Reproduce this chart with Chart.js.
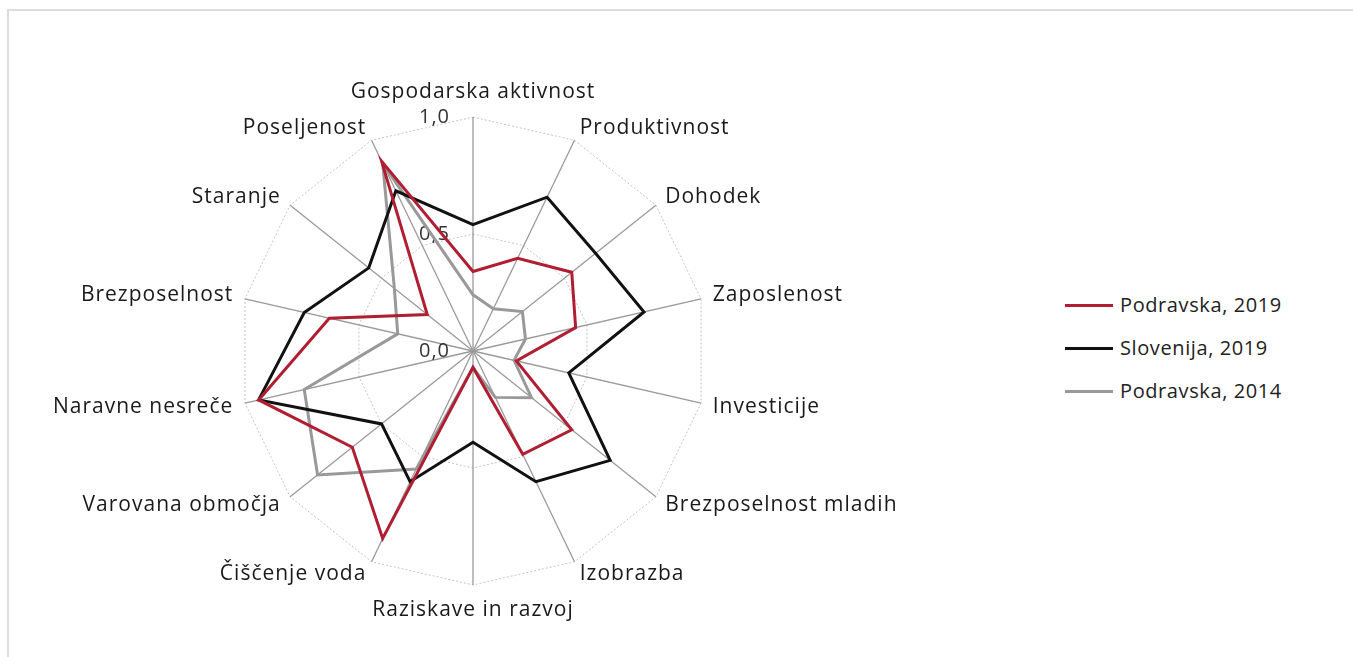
<!DOCTYPE html>
<html>
<head>
<meta charset="utf-8">
<script src="https://cdn.jsdelivr.net/npm/chart.js@4.4.1/dist/chart.umd.min.js"></script>
<style>
  body { margin: 0; background: #fff; font-family: 'Open Sans', sans-serif; }
  #okvir { position: absolute; left: 7px; top: 9px; width: 1400px; height: 700px; border: 2px solid #dcdcdc; }
  #grafico { position: absolute; left: 8px; top: 60px; }
  #legenda { position: absolute; left: 1065px; top: 290px; width: 280px; }
  .item { position: relative; height: 43px; font-size: 20px; color: #222; letter-spacing: 0.6px; white-space: nowrap; }
  .item span.crta { position: absolute; left: 0; top: 14px; width: 48px; height: 3px; }
  .item span.tekst { position: absolute; left: 55px; top: 0; line-height: 30px; }
</style>
</head>
<body>
<div id="okvir"></div>
<canvas id="grafico" width="930" height="600"></canvas>
<div id="legenda"></div>
<script>
// Kategorije (v smeri urinega kazalca od vrha)
const kategorije = [
    'Gospodarska aktivnost', 'Produktivnost', 'Dohodek', 'Zaposlenost', 'Investicije',
    'Brezposelnost mladih', 'Izobrazba', 'Raziskave in razvoj', 'Čiščenje voda',
    'Varovana območja', 'Naravne nesreče', 'Brezposelnost', 'Staranje', 'Poseljenost'
];

// Vrednosti serij
const podravska2019 = [0.34, 0.44, 0.54, 0.45, 0.19, 0.54, 0.49, 0.07, 0.89, 0.66, 0.94, 0.63, 0.25, 0.90];
const slovenija2019 = [0.54, 0.73, 0.67, 0.75, 0.42, 0.75, 0.62, 0.39, 0.62, 0.50, 0.94, 0.74, 0.57, 0.76];
const podravska2014 = [0.24, 0.20, 0.27, 0.23, 0.18, 0.32, 0.22, 0.07, 0.56, 0.85, 0.74, 0.33, 0.43, 0.89];

const imenaSerij = ['Podravska, 2019', 'Slovenija, 2019', 'Podravska, 2014'];
const barveSerij = ['#b01e32', '#111111', '#999999'];

// Oznake osi
const oznakeOsi = [0, 0.5, 1];

const razmik = {
    id: 'razmik',
    beforeUpdate(chart) { chart.ctx.letterSpacing = '1px'; },
    beforeDraw(chart) { chart.ctx.letterSpacing = '1px'; }
};

const ctx = document.getElementById('grafico').getContext('2d');

const dados = {
    labels: kategorije,
    datasets: [podravska2019, slovenija2019, podravska2014].map((serija, i) => ({
        label: imenaSerij[i],
        data: serija,
        borderColor: barveSerij[i],
        backgroundColor: barveSerij[i],
        borderWidth: 3,
        pointRadius: 0,
        fill: false,
        tension: 0
    }))
};

const config = {
    type: 'radar',
    data: dados,
    plugins: [razmik],
    options: {
        responsive: false,
        animation: false,
        layout: { padding: { top: 32, bottom: 48, left: 0, right: 0 } },
        scales: {
            r: {
                min: -0.0001,
                max: 1,
                afterBuildTicks: (scale) => {
                    scale.ticks = oznakeOsi.map(v => ({ value: v }));
                },
                ticks: {
                    color: '#333',
                    font: { family: 'Open Sans', size: 20 },
                    backdropPadding: -10, // brez dodatnega odmika oznak
                    showLabelBackdrop: false,
                    callback: (v) => v.toFixed(1).replace('.', ',') + '\u2002'.repeat(7)
                },
                grid: { color: '#c4c4c4', lineWidth: 1 },
                border: { dash: [2, 2] },
                angleLines: { color: '#9a9a9a', lineWidth: 1.3 },
                pointLabels: {
                    color: '#1a1a1a',
                    padding: (c) => (c.index % 7 === 0 ? 24 : 12),
                    font: { family: 'Open Sans', size: 21, lineHeight: 0.1 }
                }
            }
        },
        plugins: {
            legend: { display: false },
            tooltip: { enabled: false }
        }
    }
};

const chart = new Chart(ctx, config);

// Legenda
const legenda = document.getElementById('legenda');
imenaSerij.forEach((ime, i) => {
    const el = document.createElement('div');
    el.className = 'item';
    el.innerHTML = '<span class="crta" style="background:' + barveSerij[i] + '"></span><span class="tekst">' + ime + '</span>';
    legenda.appendChild(el);
});
</script>
</body>
</html>
